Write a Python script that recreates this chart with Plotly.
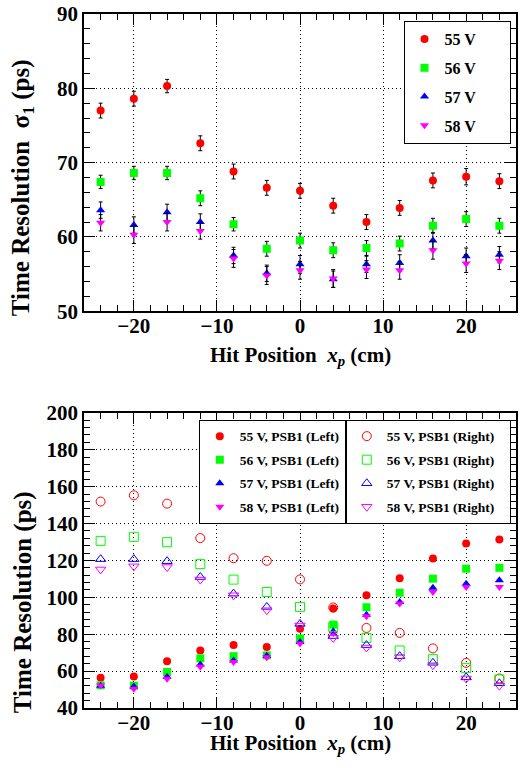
import plotly.graph_objects as go

# ---------------- data ----------------
x_pos = [-24, -20, -16, -12, -8, -4, 0, 4, 8, 12, 16, 20, 24]

# top panel: sigma_1 vs hit position
top_55 = [77.0, 78.6, 80.3, 72.6, 68.8, 66.6, 66.2, 64.2, 62.0, 63.9, 67.6, 68.1, 67.5]
top_56 = [67.4, 68.6, 68.6, 65.2, 61.7, 58.4, 59.5, 58.2, 58.5, 59.1, 61.5, 62.4, 61.5]
top_57 = [63.6, 61.6, 63.3, 62.0, 57.5, 55.1, 56.3, 54.3, 56.3, 56.5, 59.5, 57.4, 57.6]
top_58 = [61.9, 60.3, 62.0, 60.8, 57.1, 54.8, 55.5, 54.4, 55.6, 55.5, 58.2, 56.4, 56.8]
err_55 = [1.0, 1.0, 0.9, 1.0, 1.0, 1.0, 1.0, 1.0, 1.0, 1.0, 1.0, 1.1, 1.0]
err_56 = [0.9, 0.9, 0.9, 1.0, 0.9, 1.0, 1.0, 1.0, 1.0, 1.0, 1.0, 1.0, 1.0]
err_57 = [1.1, 1.1, 1.1, 1.1, 1.1, 1.1, 1.2, 1.1, 1.1, 1.1, 1.1, 1.1, 1.1]
err_58 = [1.1, 1.2, 1.2, 1.1, 1.2, 1.2, 1.2, 1.2, 1.2, 1.2, 1.2, 1.2, 1.2]

# bottom panel: PSB1 left / right
left_55 = [56.4, 57.1, 65.4, 71.2, 74.1, 73.0, 82.9, 93.9, 101.1, 110.3, 121.1, 129.2, 131.4]
left_56 = [52.3, 52.1, 59.5, 66.9, 68.1, 68.5, 77.7, 85.2, 94.6, 102.5, 110.1, 115.5, 116.0]
left_57 = [52.0, 51.7, 56.9, 63.6, 65.8, 68.3, 75.8, 81.6, 90.6, 97.5, 105.2, 107.4, 109.2]
left_58 = [52.2, 50.4, 55.8, 62.3, 65.0, 67.5, 75.0, 80.7, 89.7, 96.6, 102.9, 105.6, 105.6]
right_55 = [151.9, 155.3, 150.8, 132.1, 121.2, 119.8, 109.7, 94.5, 83.4, 80.7, 72.3, 64.5, 56.0]
right_56 = [130.6, 132.8, 129.9, 118.0, 109.6, 102.9, 94.8, 84.0, 78.0, 71.2, 66.5, 61.6, 55.5]
right_57 = [120.7, 120.7, 119.6, 111.0, 102.0, 94.8, 85.6, 79.0, 74.1, 68.1, 64.5, 56.6, 53.4]
right_58 = [115.1, 116.8, 116.4, 109.6, 101.1, 93.0, 84.7, 78.0, 72.8, 67.5, 63.2, 56.0, 52.1]

voltages = ["55 V", "56 V", "57 V", "58 V"]
colors = ["#ff0000", "#00ff00", "#0000ff", "#ff00ff"]
filled_symbols = ["circle", "square", "triangle-up", "triangle-down"]
open_symbols = ["circle-open", "square-open", "triangle-up-open", "triangle-down-open"]
sizes = [8, 8, 8, 8]

FONT = "Liberation Serif, Times New Roman, serif"
PAD = "\u00a0" * 7

fig = go.Figure()

top_vals = [top_55, top_56, top_57, top_58]
top_errs = [err_55, err_56, err_57, err_58]
for i in range(4):
    fig.add_trace(go.Scatter(
        x=x_pos, y=top_vals[i], mode="markers", name=voltages[i] + PAD,
        xaxis="x", yaxis="y", legend="legend", legendgroup="t%d" % i,
        marker=dict(symbol=filled_symbols[i], color=colors[i], size=sizes[i]),
        error_y=dict(type="data", array=top_errs[i], color="black", thickness=1, width=2),
    ))

left_vals = [left_55, left_56, left_57, left_58]
right_vals = [right_55, right_56, right_57, right_58]
for i in range(4):
    fig.add_trace(go.Scatter(
        x=x_pos, y=left_vals[i], mode="markers", name=voltages[i] + ", PSB1 (Left)",
        xaxis="x2", yaxis="y2", legend="legend2", legendgroup="l%d" % i,
        marker=dict(symbol=filled_symbols[i], color=colors[i], size=sizes[i]),
    ))
for i in range(4):
    fig.add_trace(go.Scatter(
        x=x_pos, y=right_vals[i], mode="markers", name=voltages[i] + ", PSB1 (Right)\u00a0\u00a0\u00a0",
        xaxis="x2", yaxis="y2", legend="legend3", legendgroup="r%d" % i,
        marker=dict(symbol=open_symbols[i], color=colors[i], size=sizes[i] + 1,
                    line=dict(width=1, color=colors[i])),
    ))


def xaxis_cfg(anchor):
    return dict(
        anchor=anchor, domain=[0, 1], range=[-26, 26], dtick=10, tick0=0,
        ticks="inside", ticklen=11, tickwidth=1, tickcolor="black",
        mirror="allticks", showline=True, linecolor="black", linewidth=1.5,
        showgrid=True, gridcolor="black", gridwidth=1, griddash="1px,3px",
        zeroline=False, ticklabelstandoff=-5,
        minor=dict(dtick=2, ticks="inside", ticklen=6, tickcolor="black", showgrid=False),
        tickfont=dict(family=FONT, size=21, color="black", weight="bold"),
    )


def yaxis_cfg(anchor, dom, rng, dt, mdt):
    return dict(
        anchor=anchor, domain=dom, range=rng, dtick=dt,
        ticks="inside", ticklen=11, tickwidth=1, tickcolor="black",
        mirror="allticks", showline=True, linecolor="black", linewidth=1.5,
        showgrid=True, gridcolor="black", gridwidth=1, griddash="1px,3px",
        zeroline=False,
        minor=dict(dtick=mdt, ticks="inside", ticklen=6, tickcolor="black", showgrid=False),
        tickfont=dict(family=FONT, size=21, color="black", weight="bold"),
    )


legend_common = dict(
    bgcolor="white", bordercolor="black", borderwidth=1,
    traceorder="grouped", yanchor="top",
)

fig.update_layout(
    width=520, height=768,
    margin=dict(l=84, r=2, t=12, b=60),
    paper_bgcolor="white", plot_bgcolor="white",
    font=dict(family=FONT, color="black"),
    xaxis=xaxis_cfg("y"),
    yaxis=yaxis_cfg("x", [0.5718, 1.0], [50, 90], 10, 2),
    xaxis2=xaxis_cfg("y2"),
    yaxis2=yaxis_cfg("x2", [0.0, 0.4253], [40, 200], 20, 4),
    legend=dict(x=0.7396, y=0.9899, xanchor="left", tracegroupgap=5,
                font=dict(family=FONT, size=16, color="black", weight="bold"),
                **legend_common),
    legend2=dict(x=0.606, y=0.4152, xanchor="right", tracegroupgap=3,
                 font=dict(family=FONT, size=13.5, color="black", weight="bold"),
                 **legend_common),
    legend3=dict(x=0.606, y=0.4152, xanchor="left", tracegroupgap=3,
                 font=dict(family=FONT, size=13.5, color="black", weight="bold"),
                 **legend_common),
    showlegend=True,
)

ytitle_font = dict(family=FONT, size=25, color="black", weight="bold")
xtitle_font = dict(family=FONT, size=21, color="black", weight="bold")
fig.add_annotation(text="Time Resolution  σ<sub>1</sub> (ps)", textangle=-90,
                   xref="paper", yref="paper", x=-0.142, y=0.750,
                   xanchor="center", yanchor="middle", showarrow=False, font=ytitle_font)
fig.add_annotation(text="Time Resolution (ps)", textangle=-90,
                   xref="paper", yref="paper", x=-0.142, y=0.152,
                   xanchor="center", yanchor="middle", showarrow=False, font=ytitle_font)
fig.add_annotation(text="Hit Position  <i>x<sub>p</sub></i> (cm)",
                   xref="paper", yref="paper", x=0.5, y=0.5065,
                   xanchor="center", yanchor="middle", showarrow=False, font=xtitle_font)
fig.add_annotation(text="Hit Position  <i>x<sub>p</sub></i> (cm)",
                   xref="paper", yref="paper", x=0.5, y=-0.0520,
                   xanchor="center", yanchor="middle", showarrow=False, font=xtitle_font)

fig.write_html("out.html")
